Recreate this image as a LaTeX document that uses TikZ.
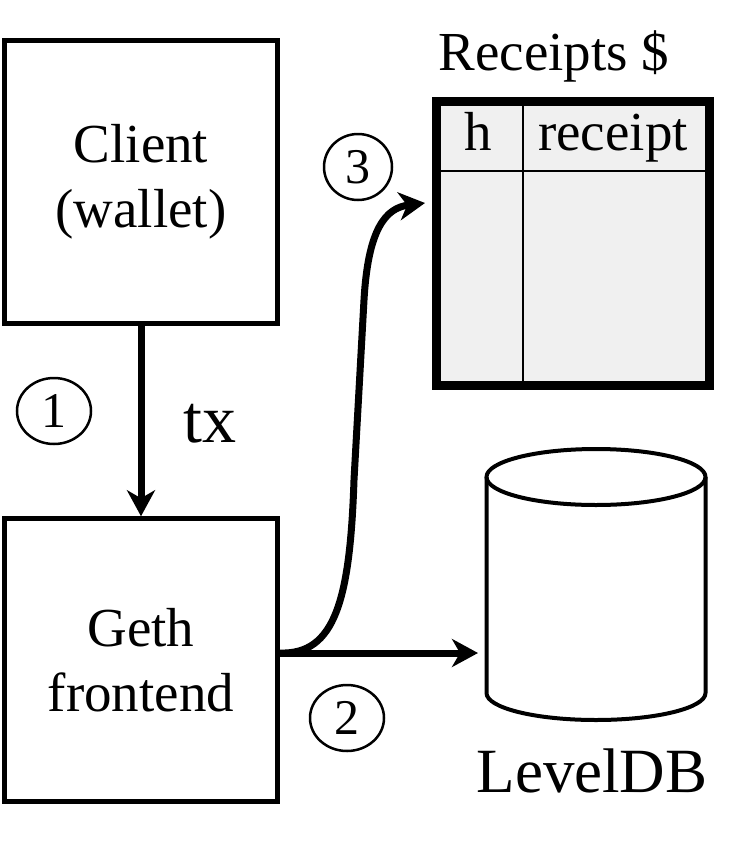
\documentclass[tikz,border=0pt]{standalone}
\usepackage{fontspec}
\setmainfont{Liberation Serif}
\usetikzlibrary{arrows.meta,shapes.geometric}

\definecolor{tablegray}{HTML}{F0F0F0}

\tikzset{
  box/.style={draw, line width=4.5pt, minimum width=273pt, minimum height=283pt,
    inner sep=0pt, align=center, font=\fontsize{55}{65}\selectfont},
  flow/.style={line width=7pt, -{Stealth[length=26pt,width=28pt,inset=8pt]}},
  stepnum/.style={draw, ellipse, line width=2.5pt, minimum width=74pt,
    minimum height=66pt, inner sep=0pt, font=\fontsize{50}{50}\selectfont},
  big/.style={font=\fontsize{55}{65}\selectfont},
  cyl/.style={line width=4pt}
}

\begin{document}
\begin{tikzpicture}[x=1pt,y=-1pt]

\useasboundingbox (0,0) rectangle (751,852);

\node[box] (client) at (141,182) {Client\\(wallet)};

\node[box] (geth) at (141,660) {Geth\\frontend};

\draw[flow] (client) -- (geth);

\node[stepnum] (one) at (54,411) {1};

\node[anchor=base west, font=\fontsize{68}{68}\selectfont] (tx) at (180,442) {tx};

\node[big, anchor=base west] (title) at (435,70) {Receipts \$};

\node[draw, line width=9pt, fill=tablegray, minimum width=273pt, minimum height=284pt, inner sep=0pt] (tbl) at (573,243.5) {};

\draw[line width=1.5pt] (523,106) -- (523,381);

\draw[line width=1.5pt] (441,171) -- (705,171);

\node[big, anchor=base] (hcol) at (478,150) {h};

\node[big, anchor=base] (rcol) at (613,150) {receipt};

\draw[cyl] (486.5,477) -- (486.5,693) arc[start angle=180, end angle=0, x radius=109.5, y radius=27] -- (705.5,477);

\draw[cyl] (596,477) ellipse [x radius=109.5, y radius=28];

\node[font=\fontsize{63}{63}\selectfont, anchor=base] (ldb) at (592,792) {LevelDB};

\coordinate (dbin) at (478,653);

\coordinate (tblin) at (425,203);

\draw[flow] (geth.east |- dbin) -- (dbin);

\draw[flow] (geth.east |- dbin) .. controls (335,655) and (350,600) .. (354,480) -- (364,300) .. controls (368,230) and (385,208) .. (tblin);

\node[stepnum] (two) at (347,718) {2};

\node[stepnum, minimum width=68pt] (three) at (358,167) {3};

\end{tikzpicture}
\end{document}
